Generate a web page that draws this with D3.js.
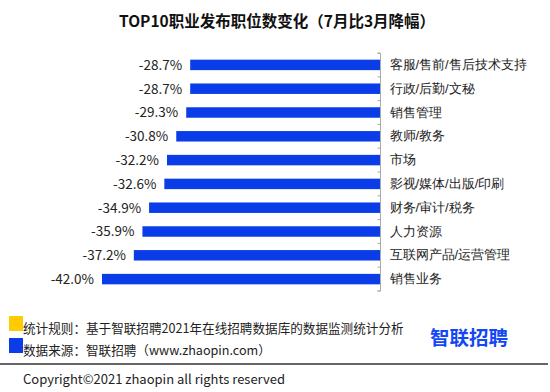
<!DOCTYPE html>
<html>
<head>
<meta charset="utf-8">
<script src="https://cdn.jsdelivr.net/npm/d3@7"></script>
<style>
  body { margin: 0; background: #fff; }
  svg { display: block; font-family: "Noto Sans CJK SC", "Noto Sans", sans-serif; }
</style>
</head>
<body>
<svg id="chart" width="550" height="392"></svg>
<script>
var categories = ["客服/售前/售后技术支持", "行政/后勤/文秘", "销售管理", "教师/教务", "市场",
                  "影视/媒体/出版/印刷", "财务/审计/税务", "人力资源", "互联网产品/运营管理", "销售业务"]
var values = [-28.7, -28.7, -29.3, -30.8, -32.2, -32.6, -34.9, -35.9, -37.2, -42.0]
var notes = ["统计规则：基于智联招聘2021年在线招聘数据库的数据监测统计分析",
             "数据来源：智联招聘（www.zhaopin.com）"]
var noteColors = ["#ffcc00", "#0a3ce8"]

var svg = d3.select("#chart")

var x = d3.scaleLinear().domain([-42, 0]).range([102, 380.5])
var y = d3.scaleBand().domain(categories).range([53, 291]).paddingInner(0.56).paddingOuter(0.28)

// title
svg.append("text")
    .attr("x", 277).attr("y", 27)
    .attr("text-anchor", "middle")
    .attr("font-size", 15.5).attr("font-weight", "bold")
    .attr("fill", "#111")
    .text("TOP10职业发布职位数变化（7月比3月降幅）")

// bars
svg.selectAll("rect.bar").data(values).enter().append("rect")
    .attr("class", "bar")
    .attr("x", function(d){ return x(d) })
    .attr("y", function(d, i){ return y(categories[i]) })
    .attr("width", function(d){ return x(0) - x(d) })
    .attr("height", y.bandwidth())
    .attr("fill", "#0a3ce8")

// value labels
svg.selectAll("text.val").data(values).enter().append("text")
    .attr("class", "val")
    .attr("x", function(d){ return x(d) - 8 })
    .attr("y", function(d, i){ return y(categories[i]) + y.bandwidth() / 2 })
    .attr("dy", "0.36em")
    .attr("text-anchor", "end")
    .attr("font-size", 13.5)
    .attr("fill", "#222")
    .text(function(d){ return d.toFixed(1) + "%" })

// axis on the right side of bars
var yAxis = d3.axisRight(y).tickSize(0).tickPadding(9)
var axisG = svg.append("g")
    .attr("class", "yAxis")
    .attr("transform", "translate(" + x(0) + ",0)")
    .call(yAxis)
axisG.select(".domain").attr("stroke", "#aaa").attr("d", "M-3,53.5H0V291H-3")
axisG.selectAll("text").attr("font-size", 13).attr("fill", "#222")

// small ticks between bands
var bounds = d3.range(categories.length + 1).map(function(i){ return 53 + i * (291 - 53) / categories.length })
axisG.selectAll("line.sep").data(bounds).enter().append("line")
    .attr("class", "sep")
    .attr("x1", -3).attr("x2", 0)
    .attr("y1", function(d){ return d }).attr("y2", function(d){ return d })
    .attr("stroke", "#aaa")

// notes
notes.forEach(function(t, i){
    svg.append("rect")
        .attr("x", 9).attr("y", 316 + i * 22)
        .attr("width", 14).attr("height", 15)
        .attr("fill", noteColors[i])
    svg.append("text")
        .attr("x", 23).attr("y", 328 + i * 22)
        .attr("dy", "0.36em")
        .attr("font-size", 12.6)
        .attr("fill", "#222")
        .text(t)
})

// logo
svg.append("text")
    .attr("x", 430).attr("y", 338)
    .attr("dy", "0.36em")
    .attr("font-size", 19.5).attr("font-weight", "bold")
    .attr("fill", "#1448f5")
    .text("智联招聘")

// divider
svg.append("line")
    .attr("x1", 0).attr("x2", 548)
    .attr("y1", 364).attr("y2", 364)
    .attr("stroke", "#666").attr("stroke-width", 2)

svg.append("text")
    .attr("x", 23).attr("y", 379)
    .attr("dy", "0.36em")
    .attr("font-size", 13)
    .attr("fill", "#222")
    .text("Copyright©2021 zhaopin all rights reserved")
</script>
</body>
</html>
